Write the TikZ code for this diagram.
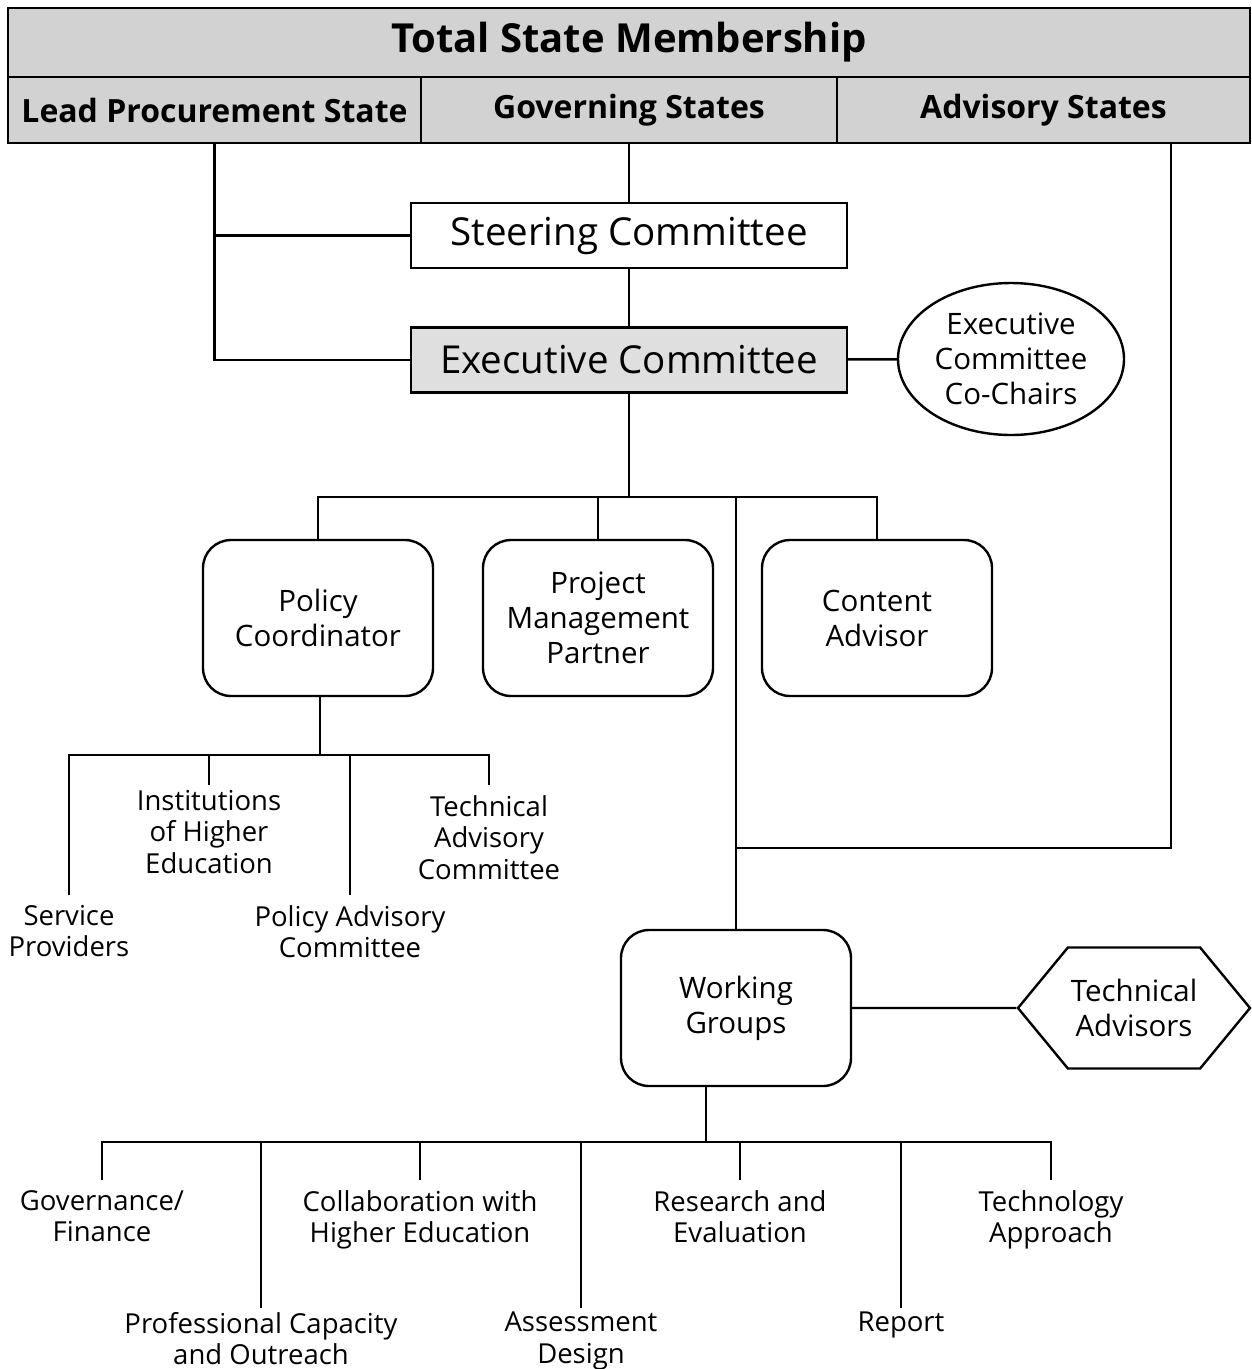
\documentclass[tikz,border=0pt]{standalone}
\usepackage{fontspec}
\setmainfont{Open Sans}
\usetikzlibrary{shapes.geometric,shapes.symbols}

\tikzset{
  line/.style={line width=2.4pt},
  hdr/.style={draw,line width=2.4pt,fill=gray!35,inner sep=0pt,font=\bfseries\fontsize{32}{36}\selectfont},
  bar/.style={draw,line width=2.4pt,minimum width=436pt,minimum height=65pt,inner sep=0pt,font=\fontsize{38.5}{42}\selectfont},
  box/.style={draw,line width=2.4pt,rounded corners=28pt,minimum width=230pt,minimum height=156pt,inner sep=0pt,align=center,font=\fontsize{29.5}{35}\selectfont},
  leaf/.style={anchor=north,align=center,inner xsep=3pt,inner ysep=10pt,font=\fontsize{27.5}{31.5}\selectfont},
  lowleaf/.style={leaf,inner ysep=4pt}
}

\begin{document}
\begin{tikzpicture}[x=1pt,y=-1pt]
\useasboundingbox (0,0) rectangle (1252,1369);

% membership header
\node[hdr,minimum width=1242pt,minimum height=69pt,font=\bfseries\fontsize{40}{44}\selectfont] (total) at (629,42.5) {Total State Membership};
\node[hdr,minimum width=413pt,minimum height=66pt] (lead) at (214.5,110) {Lead Procurement State};
\node[hdr,minimum width=416pt,minimum height=66pt] (gov) at (629,110) {Governing States};
\node[hdr,minimum width=413pt,minimum height=66pt] (adv) at (1043.5,110) {Advisory States};

% committees
\node[bar] (steer) at (629,235.5) {Steering Committee};
\node[bar,fill=gray!25] (exec) at (629,360) {Executive Committee};
\node[draw,line width=2.4pt,ellipse,minimum width=226pt,minimum height=152pt,inner sep=0pt,align=center,font=\fontsize{29.5}{35}\selectfont] (chairs) at (1011,359) {Executive\\Committee\\Co-Chairs};

\draw[line] (gov.south) -- (steer.north);
\draw[line] (steer) -- (exec);
\draw[line] (exec) -- (chairs);
\draw[line] (lead.south) -- (lead.south |- exec.west) -- (exec.west);
\draw[line] (lead.south |- steer.west) -- (steer.west);

% staff
\node[box] (policy) at (318,618) {Policy\\Coordinator};
\node[box] (project) at (598,618) {Project\\Management\\Partner};
\node[box] (content) at (877,618) {Content\\Advisor};
\node[box] (work) at (736,1008) {Working\\Groups};
\node[draw,line width=2.4pt,signal,signal to=east and west,signal pointer angle=101,minimum width=232pt,minimum height=121pt,inner sep=0pt,align=center,font=\fontsize{29.5}{35}\selectfont] (tadv) at (1134,1008) {Technical\\Advisors};

\coordinate (hub) at (629,497);
\draw[line] (exec.south) -- (hub);
\draw[line] (policy.north) |- (hub) -| (content.north);
\draw[line] (project.north) -- (project.north |- hub);
\draw[line] (work.north) -- (work.north |- hub);
\coordinate (advturn) at (1171,848);
\draw[line] (advturn |- adv.south) -- (advturn) -- (advturn -| work.north);
\draw[line] (work) -- (tadv);

% policy coordinator branches
\coordinate (pbar) at (320,755);
\node[leaf] (svc) at (69,895) {Service\\Providers};
\node[leaf,inner ysep=5pt] (ihe) at (209,785) {Institutions\\of Higher\\Education};
\node[leaf] (pac) at (350,895) {Policy Advisory\\Committee};
\node[leaf] (tac) at (489,785) {Technical\\Advisory\\Committee};
\draw[line] (pbar |- policy.south) -- (pbar);
\draw[line] (svc.north) |- (pbar) -| (tac.north);
\draw[line] (ihe.north) -- (ihe.north |- pbar);
\draw[line] (pac.north) -- (pac.north |- pbar);

% working group branches
\coordinate (wbar) at (706,1142);
\node[leaf] (gf) at (102,1180) {Governance/\\Finance};
\node[lowleaf] (pco) at (261,1308) {Professional Capacity\\and Outreach};
\node[leaf] (che) at (420,1180) {Collaboration with\\Higher Education};
\node[lowleaf] (asd) at (581,1308) {Assessment\\Design};
\node[leaf] (res) at (740,1180) {Research and\\Evaluation};
\node[lowleaf] (rep) at (901,1308) {Report};
\node[leaf] (tap) at (1051,1180) {Technology\\Approach};
\draw[line] (wbar |- work.south) -- (wbar);
\draw[line] (gf.north) |- (wbar) -| (tap.north);
\foreach \n in {pco,che,asd,res,rep}
  \draw[line] (\n.north) -- (\n.north |- wbar);
\end{tikzpicture}
\end{document}
